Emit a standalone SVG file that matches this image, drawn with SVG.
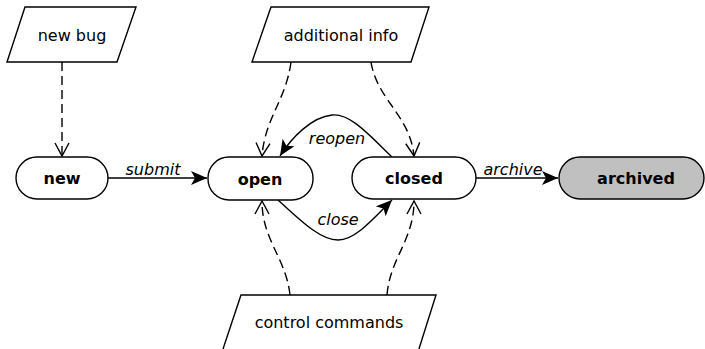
<svg xmlns="http://www.w3.org/2000/svg" width="705" height="349" viewBox="0 0 705 349">
<defs>
<style>
.shape{fill:#fff;stroke:#000;stroke-width:1.4}
.txt{font-family:"DejaVu Sans",sans-serif;font-size:16px;text-anchor:middle;fill:#000}
.b{font-weight:bold}
.i{font-style:italic}
.edge{fill:none;stroke:#000;stroke-width:1.4}
.dash{stroke-dasharray:9,5}
</style>
<marker id="open" markerUnits="userSpaceOnUse" markerWidth="18" markerHeight="18" refX="14" refY="9" orient="auto" viewBox="0 0 18 18">
<path d="M1,2 L14,9 L1,16" fill="none" stroke="#000" stroke-width="1.4"/>
</marker>
<marker id="solid" markerUnits="userSpaceOnUse" markerWidth="18" markerHeight="14" refX="16" refY="7" orient="auto" viewBox="0 0 18 14">
<path d="M0,0 L16,7 L0,14 L4,7 Z" fill="#000"/>
</marker>
</defs>
<g id="connectors">
<path class="edge dash" d="M62,62 L62,156" marker-end="url(#open)"/>
<path class="edge dash" d="M291,62 C286,100 265,118 262,156" marker-end="url(#open)"/>
<path class="edge dash" d="M371,62 C377,100 410,115 414,156" marker-end="url(#open)"/>
<path class="edge dash" d="M290,295 C286,258 262,240 262,201" marker-end="url(#open)"/>
<path class="edge dash" d="M387,295 C390,258 414,240 414,201" marker-end="url(#open)"/>
<path class="edge" d="M108,178 L207,178" marker-end="url(#solid)"/>
<text class="txt i" x="153" y="175">submit</text>
<path class="edge" d="M476,178 L558,178" marker-end="url(#solid)"/>
<text class="txt i" x="513" y="175">archive</text>
<path class="edge" d="M392,157 C368,134 350,113 332,115 C312,117 292,137 280,156" marker-end="url(#solid)"/>
<text class="txt i" x="337" y="144">reopen</text>
<path class="edge" d="M278,200 C300,220 320,240 338,240 C356,240 376,216 392,200" marker-end="url(#solid)"/>
<text class="txt i" x="338" y="225">close</text>
</g>
<g id="new-bug">
<polygon class="shape" points="25,7 136,7 117,62 7,62"/>
<text class="txt" x="72" y="41">new bug</text>
</g>
<g id="additional-info">
<polygon class="shape" points="271,7 429,7 411,62 252,62"/>
<text class="txt" x="341" y="41">additional info</text>
</g>
<g id="control-commands">
<polygon class="shape" points="241,295 436,295 418,352 222,352"/>
<text class="txt" x="329" y="328">control commands</text>
</g>
<g id="new">
<rect class="shape" x="16" y="157" width="92" height="42" rx="21"/>
<text class="txt b" x="62" y="184">new</text>
</g>
<g id="open-node">
<rect class="shape" x="208" y="157" width="105" height="43" rx="21"/>
<text class="txt b" x="260" y="185">open</text>
</g>
<g id="closed">
<rect class="shape" x="352" y="157" width="124" height="42" rx="21"/>
<text class="txt b" x="414" y="184">closed</text>
</g>
<g id="archived">
<rect class="shape" x="559" y="157" width="145" height="42" rx="21" style="fill:#c0c0c0"/>
<text class="txt b" x="636" y="184">archived</text>
</g>
</svg>
